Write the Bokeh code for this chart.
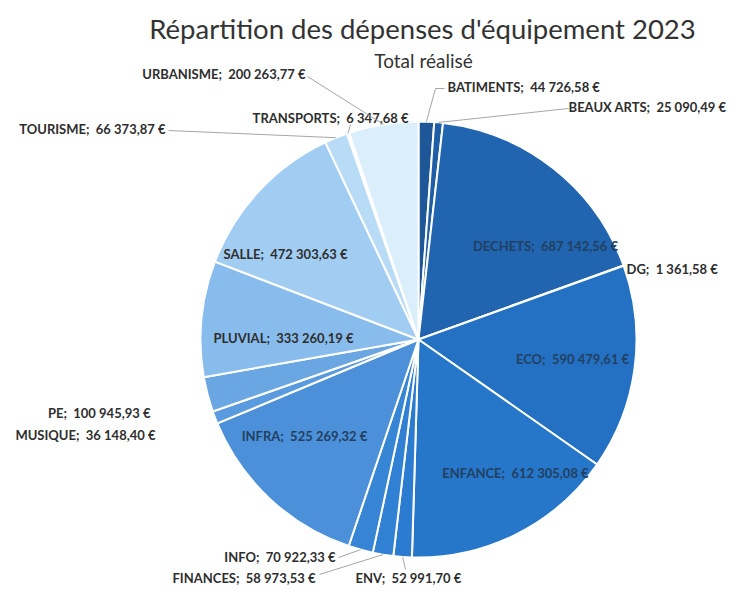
import math
from bokeh.plotting import figure
from bokeh.models import Range1d, ColumnDataSource
from bokeh.core.properties import value
from bokeh.embed import file_html
from bokeh.resources import INLINE

# ---- data ----
categories = ["BATIMENTS", "BEAUX ARTS", "DECHETS", "DG", "ECO", "ENFANCE", "ENV",
              "FINANCES", "INFO", "INFRA", "MUSIQUE", "PE", "PLUVIAL", "SALLE",
              "TOURISME", "TRANSPORTS", "URBANISME"]
amounts = [44726.58, 25090.49, 687142.56, 1361.58, 590479.61, 612305.08, 52991.70,
           58973.53, 70922.33, 525269.32, 36148.40, 100945.93, 333260.19, 472303.63,
           66373.87, 6347.68, 200263.77]
amount_labels = ["44 726,58 €", "25 090,49 €", "687 142,56 €", "1 361,58 €", "590 479,61 €",
                 "612 305,08 €", "52 991,70 €", "58 973,53 €", "70 922,33 €", "525 269,32 €",
                 "36 148,40 €", "100 945,93 €", "333 260,19 €", "472 303,63 €", "66 373,87 €",
                 "6 347,68 €", "200 263,77 €"]

title = "Répartition des dépenses d'équipement 2023"
subtitle = "Total réalisé"

# ---- style ----
palette = ["#1d5797", "#1f5ea6", "#2164b0", "#2369b6", "#2470c2", "#2676ca", "#2b7bd0",
           "#3080d3", "#3785d5", "#4b90d9", "#5a9ade", "#6aa6e2", "#88bcec", "#a2cdf2",
           "#b8dbf6", "#c9e4f8", "#dbeefb"]

W, H = 729, 585
CX, CY, R = 418, 339, 218  # picture-pixel coordinates of pie centre

def Y(sy):
    return -sy

p = figure(width=W, height=H, x_range=Range1d(0, W), y_range=Range1d(-H, 0),
           output_backend="svg", toolbar_location=None, min_border=0)
p.axis.visible = False
p.grid.visible = False
p.outline_line_color = None
p.background_fill_color = "white"

total = sum(amounts)
starts, ends, mids = [], [], []
cum = 0.0
for a in amounts:
    f0 = cum / total
    cum += a
    f1 = cum / total
    starts.append(math.pi / 2 - 2 * math.pi * f0)
    ends.append(math.pi / 2 - 2 * math.pi * f1)
    mids.append(math.pi / 2 - 2 * math.pi * (f0 + f1) / 2)

src = ColumnDataSource(dict(x=[CX] * len(amounts), y=[Y(CY)] * len(amounts),
                            start=starts, end=ends, color=palette))
p.wedge(x="x", y="y", radius=R, start_angle="start", end_angle="end", direction="clock",
        fill_color="color", line_color="white", line_width=2, source=src)

# label layout: (x, y, align, leader points or None)
layout = {
    "BATIMENTS": (447, 86, "left", [(444, 88), (435, 88)]),
    "BEAUX ARTS": (726, 106, "right", [(568, 108)]),
    "DECHETS": (545, 245, "center", None),
    "DG": (626, 268, "left", None),
    "ECO": (572, 358, "center", None),
    "ENFANCE": (515, 472, "center", None),
    "ENV": (355, 577, "left", [(405, 569)]),
    "FINANCES": (315, 577, "right", [(319, 574)]),
    "INFO": (335, 556, "right", [(338, 557)]),
    "INFRA": (304, 435, "center", None),
    "MUSIQUE": (155, 434, "right", None),
    "PE": (150, 412, "right", None),
    "PLUVIAL": (283, 337, "center", None),
    "SALLE": (285, 253, "center", None),
    "TOURISME": (165, 128, "right", [(168, 130)]),
    "TRANSPORTS": (408, 117, "right", [(350, 124)]),
    "URBANISME": (305, 73, "right", [(307, 76)]),
}

dark_inside = {"DECHETS", "ECO", "ENFANCE", "INFRA"}

for i, cat in enumerate(categories):
    sx, sy, align, leader = layout[cat]
    txt = f"{cat};\u00a0 {amount_labels[i]}"
    color = "#22405f" if cat in dark_inside else "#2e2e2e"
    p.text(x=[sx], y=[Y(sy)], text=[txt], text_align=align, text_baseline="middle",
           text_font=value("Lato"), text_font_style="bold", text_font_size="13px",
           text_color=color)
    if leader:
        ex = CX + R * math.cos(mids[i])
        ey = CY - R * math.sin(mids[i])
        xs = [pt[0] for pt in leader] + [ex]
        ys = [Y(pt[1]) for pt in leader] + [Y(ey)]
        p.line(x=xs, y=ys, line_color="#a6a6a6", line_width=1)

p.text(x=[422], y=[Y(28)], text=[title], text_align="center", text_baseline="middle",
       text_font=value("Lato"), text_font_size="27.5px", text_color="#333333")
p.text(x=[423], y=[Y(60)], text=[subtitle], text_align="center", text_baseline="middle",
       text_font=value("Lato"), text_font_size="19px", text_color="#333333")

open("out.html", "w").write(file_html(p, INLINE))
